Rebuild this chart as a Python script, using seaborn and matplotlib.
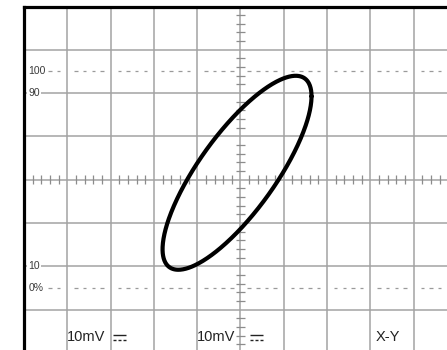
import numpy as np
import pandas as pd
import matplotlib
matplotlib.use("Agg")
import matplotlib.pyplot as plt
import seaborn as sns

# ---- data (screen divisions; X-Y mode, two sine signals) ----
x_amplitude = 1.72      # div
y_amplitude = 2.24      # div
phase_deg = 38.0        # phase shift between X and Y
x_offset = -0.08        # div
y_offset = 0.16         # div

level_labels = ["100", "90", "10", "0%"]
level_values = [2.5, 2.0, -2.0, -2.5]          # div from centre
channel_texts = ["10mV", "10mV", "X-Y"]
channel_x = [-4.0, -1.0, 3.13]                 # div, left edge of text
dc_symbol_x = [-2.95, 0.22]                    # DC-coupling symbol (no font has U+2393)

n_xdiv, n_ydiv = 10, 8

# ---- figure ----
sns.set_style("white")
plt.rcParams["font.family"] = ["Liberation Sans", "DejaVu Sans"]

fig = plt.figure(figsize=(4.47, 3.5), dpi=100)
W, H = 447, 350
div = 43.3
left_px, top_px = 24, 6.5
ax = fig.add_axes([left_px / W, (H - (top_px + n_ydiv * div)) / H,
                   n_xdiv * div / W, n_ydiv * div / H])
ax.set_xlim(-n_xdiv / 2, n_xdiv / 2)
ax.set_ylim(-n_ydiv / 2, n_ydiv / 2)

grid_col = "#a3a3a3"
# major grid
ax.set_xticks(np.arange(-n_xdiv / 2, n_xdiv / 2 + 1))
ax.set_yticks(np.arange(-n_ydiv / 2, n_ydiv / 2 + 1))
ax.grid(True, color=grid_col, lw=1.1)
ax.tick_params(length=0, labelbottom=False, labelleft=False)
ax.set_axisbelow(True)

# minor ticks on centre axes
sub = np.arange(-n_xdiv / 2, n_xdiv / 2 + 1e-9, 0.2)
sub = sub[np.abs(sub - np.round(sub)) > 1e-6]
ax.vlines(sub, -0.104, 0.104, color="#8c8c8c", lw=0.9, zorder=1)
suby = np.arange(-n_ydiv / 2, n_ydiv / 2 + 1e-9, 0.2)
suby = suby[np.abs(suby - np.round(suby)) > 1e-6]
ax.hlines(suby, -0.104, 0.104, color="#8c8c8c", lw=0.9, zorder=1)

# dotted 0% / 100% lines
dash_c = np.arange(-n_xdiv / 2, n_xdiv / 2 + 1e-9, 0.2)
dash_c = dash_c[np.abs(dash_c - np.round(dash_c)) > 1e-6]
for lv in (level_values[0], level_values[3]):
    ax.hlines(np.full(dash_c.shape, lv), dash_c - 0.04, dash_c + 0.04,
              color="#9a9a9a", lw=0.9, zorder=1)

# spines
for s in ["left", "top"]:
    ax.spines[s].set_visible(True)
    ax.spines[s].set_color("black")
    ax.spines[s].set_linewidth(2.3)
for s in ["right", "bottom"]:
    ax.spines[s].set_visible(False)

# Lissajous trace
t = np.linspace(0, 2 * np.pi, 600)
trace = pd.DataFrame({
    "x": x_offset + x_amplitude * np.cos(t),
    "y": y_offset + y_amplitude * np.cos(t - np.deg2rad(phase_deg)),
})
sns.lineplot(data=trace, x="x", y="y", sort=False, estimator=None,
             color="black", lw=3.0, ax=ax, zorder=5)
ax.set_xlabel("")
ax.set_ylabel("")

# level labels
for lab, lv in zip(level_labels, level_values):
    ax.text(-4.9, lv, lab, fontsize=7.5, color="#3a3a3a", ha="left",
            va="center", zorder=3,
            bbox=dict(facecolor="white", edgecolor="none", pad=0.6))

# channel texts
ty = -3.64
for txt, tx in zip(channel_texts, channel_x):
    ax.text(tx, ty, txt, fontsize=10.5, color="#222222", ha="left",
            va="center", zorder=3)

# DC-coupling symbol drawn as a shape (solid bar above dashed bar)
sym_w = 0.3
for sx in dc_symbol_x:
    ax.hlines(ty + 0.06, sx, sx + sym_w, color="#222222", lw=1.0, zorder=3)
    starts = sx + np.arange(3) * sym_w / 2.6
    ax.hlines(np.full(3, ty - 0.06), starts, starts + sym_w / 4.2,
              color="#222222", lw=1.0, zorder=3)

fig.savefig("out.png", dpi=100)
